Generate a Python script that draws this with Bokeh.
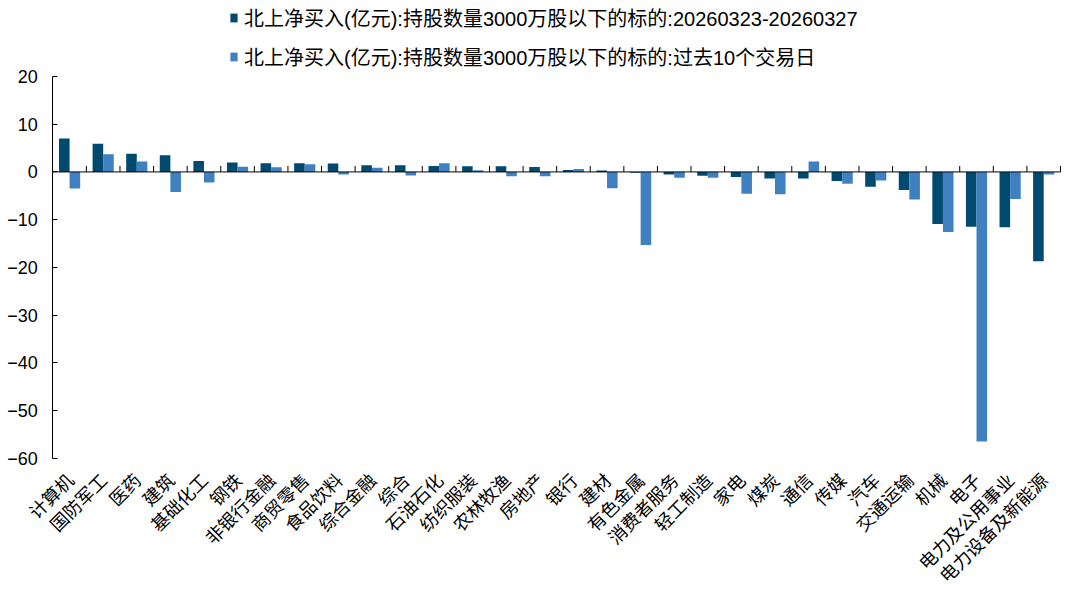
import math
import numpy as np
from bokeh.plotting import figure
from bokeh.models import Range1d, ColumnDataSource, Legend, LegendItem, FixedTicker
from bokeh.embed import file_html
from bokeh.resources import INLINE

categories = ["计算机", "国防军工", "医药", "建筑", "基础化工", "钢铁", "非银行金融", "商贸零售",
              "食品饮料", "综合金融", "综合", "石油石化", "纺织服装", "农林牧渔", "房地产", "银行",
              "建材", "有色金属", "消费者服务", "轻工制造", "家电", "煤炭", "通信", "传媒", "汽车",
              "交通运输", "机械", "电子", "电力及公用事业", "电力设备及新能源"]
week_values = [7.0, 5.9, 3.8, 3.5, 2.3, 1.95, 1.8, 1.8, 1.75, 1.4, 1.4, 1.25, 1.2, 1.2, 1.05, 0.4,
               0.3, -0.15, -0.55, -0.8, -1.05, -1.4, -1.4, -1.9, -3.1, -3.8, -10.9, -11.5, -11.6, -18.7]
ten_day_values = [-3.5, 3.7, 2.2, -4.2, -2.2, 1.1, 1.0, 1.6, -0.55, 0.85, -0.75, 1.8, 0.35, -0.9, -0.9, 0.6,
                  -3.4, -15.3, -1.2, -1.2, -4.55, -4.7, 2.2, -2.5, -1.8, -5.8, -12.6, -56.5, -5.7, -0.55]
y_ticks = [20, 10, 0, -10, -20, -30, -40, -50, -60]
series_names = ["北上净买入(亿元):持股数量3000万股以下的标的:20260323-20260327",
                "北上净买入(亿元):持股数量3000万股以下的标的:过去10个交易日"]

DARK = "#004A70"
LIGHT = "#3F80C1"
FONT = "Liberation Sans, Noto Sans CJK SC"

# page geometry (pixels)
FIG_W, FIG_H = 1064, 589
PLOT_LEFT_PX, PLOT_RIGHT_PX = 52.3, 1060.0
AXIS_TOP_PX, AXIS_BOT_PX = 76.0, 457.7
AXIS_MIN, AXIS_MAX = -60, 20

n = len(categories)
px_per_cat = (PLOT_RIGHT_PX - PLOT_LEFT_PX) / n
px_per_unit = (AXIS_BOT_PX - AXIS_TOP_PX) / (AXIS_MAX - AXIS_MIN)
x_left = -PLOT_LEFT_PX / px_per_cat
x_right = n + (FIG_W - PLOT_RIGHT_PX) / px_per_cat
y_top = AXIS_MAX + AXIS_TOP_PX / px_per_unit
y_bot = AXIS_MIN - (FIG_H - AXIS_BOT_PX) / px_per_unit

centers = np.arange(n) + 0.5
bar_w = 0.315
source = ColumnDataSource(dict(x1=centers - bar_w / 2, x2=centers + bar_w / 2,
                               week=week_values, ten=ten_day_values))

p = figure(width=FIG_W, height=FIG_H, output_backend="svg", toolbar_location=None,
           x_range=Range1d(x_left, x_right), y_range=Range1d(y_bot, y_top),
           min_border_left=0, min_border_right=0, min_border_top=0, min_border_bottom=0)
p.outline_line_color = None
p.grid.visible = False
p.background_fill_color = "white"
p.border_fill_color = "white"

r1 = p.vbar(x="x1", top="week", width=bar_w, source=source, fill_color=DARK, line_color=None)
r2 = p.vbar(x="x2", top="ten", width=bar_w, source=source, fill_color=LIGHT, line_color=None)

# zero line with category boundary ticks
p.segment(x0=[0], x1=[n], y0=[0], y1=[0], line_color="#000000", line_width=1)
bounds = np.arange(1, n + 1)
p.segment(x0=bounds, x1=bounds, y0=np.zeros(n), y1=np.full(n, 6 / px_per_unit),
          line_color="#000000", line_width=1)

# y axis, drawn at the left edge of the category area
p.yaxis.fixed_location = 0
p.yaxis.ticker = FixedTicker(ticks=y_ticks)
p.yaxis.bounds = (AXIS_MIN, AXIS_MAX)
p.yaxis.major_tick_in = 5
p.yaxis.major_tick_out = 0
p.yaxis.minor_tick_line_color = None
p.yaxis.axis_line_color = "#000000"
p.yaxis.major_tick_line_color = "#000000"
p.yaxis.major_label_text_font = FONT
p.yaxis.major_label_text_font_size = "18px"
p.yaxis.major_label_text_color = "#000000"
p.yaxis.major_label_standoff = 15

# category axis at the bottom of the value axis, labels rotated 45 degrees
p.xaxis.fixed_location = AXIS_MIN
p.xaxis.ticker = FixedTicker(ticks=list(centers))
p.xaxis.major_label_overrides = {float(c): name for c, name in zip(centers, categories)}
p.xaxis.axis_line_color = None
p.xaxis.major_tick_line_color = None
p.xaxis.minor_tick_line_color = None
p.xaxis.major_label_orientation = math.pi / 4
p.xaxis.major_label_text_font = "Noto Sans CJK SC"
p.xaxis.major_label_text_font_size = "18px"
p.xaxis.major_label_text_color = "#000000"
p.xaxis.major_label_standoff = 12

legend = Legend(items=[LegendItem(label=series_names[0], renderers=[r1]),
                       LegendItem(label=series_names[1], renderers=[r2])],
                location=(229, FIG_H - 70.5), orientation="vertical",
                glyph_width=9, glyph_height=11, label_height=29, spacing=10,
                padding=0, margin=0, border_line_color=None, background_fill_alpha=0,
                label_text_font=FONT, label_text_font_size="20px", label_standoff=6,
                label_text_color="#000000")
p.add_layout(legend, "center")

open("out.html", "w").write(file_html(p, INLINE))
